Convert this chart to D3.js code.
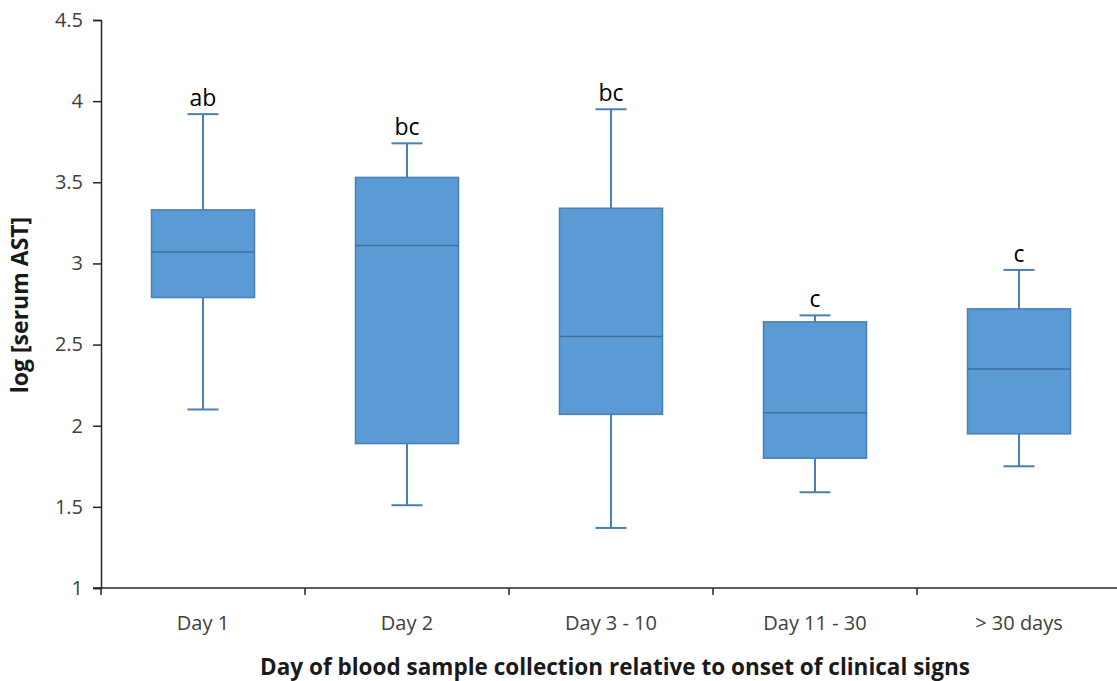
<!DOCTYPE html>
<html>
<head>
<meta charset="utf-8">
<script src="https://cdn.jsdelivr.net/npm/d3@7"></script>
<style>
  body { margin: 0; background: #fff; }
  svg text { font-family: "Open Sans", "Noto Sans", sans-serif; }
</style>
</head>
<body>
<svg width="1117" height="681"></svg>
<script>
const categories = ["Day 1", "Day 2", "Day 3 - 10", "Day 11 - 30", "> 30 days"];
const whiskerLow = [2.10, 1.51, 1.37, 1.59, 1.75];
const q1 = [2.79, 1.89, 2.07, 1.80, 1.95];
const median = [3.07, 3.11, 2.55, 2.08, 2.35];
const q3 = [3.33, 3.53, 3.34, 2.64, 2.72];
const whiskerHigh = [3.92, 3.74, 3.95, 2.68, 2.96];
const groupLetters = ["ab", "bc", "bc", "c", "c"];
const yTicks = [1, 1.5, 2, 2.5, 3, 3.5, 4, 4.5];

const svg = d3.select("svg");

const x = d3.scaleBand().domain(categories).range([101, 1121]);
const y = d3.scaleLinear().domain([1, 4.5]).range([588, 20]);

const boxW = 103, capW = 31;
const fill = "#5b9bd5", stroke = "#4a7fb5";

// y axis
const yAxis = svg.append("g")
    .attr("transform", "translate(101,0)")
    .call(d3.axisLeft(y).tickValues(yTicks).tickFormat(d3.format("")).tickSize(8).tickPadding(10));
yAxis.select(".domain").attr("stroke", "#262626").attr("stroke-width", 1.5);
yAxis.selectAll(".tick line").attr("stroke", "#262626").attr("stroke-width", 1.5);
yAxis.selectAll("text").attr("font-size", 20).attr("fill", "#404040");

// x axis: ticks sit on the band edges
const xAxis = svg.append("g")
    .attr("transform", "translate(0,588)");
xAxis.append("line")
    .attr("x1", 93).attr("x2", 1121)
    .attr("stroke", "#262626").attr("stroke-width", 1.5);
xAxis.selectAll("line.tk")
  .data(categories)
  .enter().append("line")
    .attr("class", "tk")
    .attr("x1", d => x(d)).attr("x2", d => x(d))
    .attr("y1", 0).attr("y2", 7)
    .attr("stroke", "#262626").attr("stroke-width", 1.5);
xAxis.selectAll("text")
  .data(categories)
  .enter().append("text")
    .attr("x", d => x(d) + x.bandwidth() / 2)
    .attr("y", 42)
    .attr("text-anchor", "middle")
    .attr("font-size", 20)
    .attr("fill", "#404040")
    .text(d => d);

const boxes = svg.append("g").selectAll("g")
  .data(categories)
  .enter().append("g");

const cx = d => x(d) + x.bandwidth() / 2;

// whiskers
boxes.append("line")
    .attr("x1", cx).attr("x2", cx)
    .attr("y1", (d, i) => y(whiskerHigh[i]))
    .attr("y2", (d, i) => y(whiskerLow[i]))
    .attr("stroke", stroke).attr("stroke-width", 2);
boxes.append("line")
    .attr("x1", d => cx(d) - capW / 2).attr("x2", d => cx(d) + capW / 2)
    .attr("y1", (d, i) => y(whiskerHigh[i])).attr("y2", (d, i) => y(whiskerHigh[i]))
    .attr("stroke", stroke).attr("stroke-width", 2);
boxes.append("line")
    .attr("x1", d => cx(d) - capW / 2).attr("x2", d => cx(d) + capW / 2)
    .attr("y1", (d, i) => y(whiskerLow[i])).attr("y2", (d, i) => y(whiskerLow[i]))
    .attr("stroke", stroke).attr("stroke-width", 2);

// boxes
boxes.append("rect")
    .attr("x", d => cx(d) - boxW / 2)
    .attr("width", boxW)
    .attr("y", (d, i) => y(q3[i]))
    .attr("height", (d, i) => y(q1[i]) - y(q3[i]))
    .attr("fill", fill)
    .attr("stroke", stroke).attr("stroke-width", 1.5);
boxes.append("line")
    .attr("x1", d => cx(d) - boxW / 2).attr("x2", d => cx(d) + boxW / 2)
    .attr("y1", (d, i) => y(median[i])).attr("y2", (d, i) => y(median[i]))
    .attr("stroke", "#41719c").attr("stroke-width", 1.5);

// significance letters
boxes.append("text")
    .attr("x", cx)
    .attr("y", (d, i) => y(whiskerHigh[i]) - 8)
    .attr("text-anchor", "middle")
    .attr("font-size", 23)
    .attr("fill", "#000")
    .text((d, i) => groupLetters[i]);

// axis titles
svg.append("text")
    .attr("transform", "translate(28,305) rotate(-90)")
    .attr("text-anchor", "middle")
    .attr("font-size", 23)
    .attr("font-weight", "bold")
    .attr("fill", "#1a1a1a")
    .text("log [serum AST]");

svg.append("text")
    .attr("x", 615)
    .attr("y", 675)
    .attr("text-anchor", "middle")
    .attr("font-size", 22.5)
    .attr("font-weight", "bold")
    .attr("fill", "#1a1a1a")
    .text("Day of blood sample collection relative to onset of clinical signs");
</script>
</body>
</html>
